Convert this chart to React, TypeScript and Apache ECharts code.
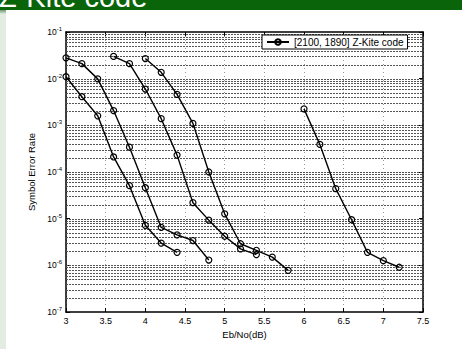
import React, { useEffect, useRef } from "react";
import * as echarts from "echarts";

const FONT = "'Liberation Sans', Arial, Helvetica, sans-serif";

const LEGEND_NAME = "[2100, 1890] Z-Kite code";
const HEADER_TEXT = "Z-Kite code";
const X_MIN = 3;
const X_MAX = 7.5;
const X_INTERVAL = 0.5;
const Y_MIN = 1e-7;
const Y_MAX = 1e-1;

const curveA: [number, number][] = [
  [3.0, 1.1e-2], [3.2, 4.1e-3], [3.4, 1.6e-3], [3.6, 2.1e-4], [3.8, 5.1e-5],
  [4.0, 7.2e-6], [4.2, 3.0e-6], [4.4, 1.9e-6],
];
const curveB: [number, number][] = [
  [3.0, 2.8e-2], [3.2, 2.1e-2], [3.4, 9.9e-3], [3.6, 2.07e-3], [3.8, 3.4e-4],
  [4.0, 4.6e-5], [4.2, 6.5e-6], [4.4, 4.5e-6], [4.6, 3.4e-6], [4.8, 1.3e-6],
];
const curveC: [number, number][] = [
  [3.6, 3.0e-2], [3.8, 2.1e-2], [4.0, 6.0e-3], [4.2, 1.39e-3], [4.4, 2.3e-4],
  [4.6, 2.2e-5], [4.8, 9.3e-6], [5.0, 4.2e-6], [5.2, 2.25e-6], [5.4, 1.7e-6],
];
const curveD: [number, number][] = [
  [4.0, 2.7e-2], [4.2, 1.37e-2], [4.4, 4.6e-3], [4.6, 1.1e-3], [4.8, 1.0e-4],
  [5.0, 1.27e-5], [5.2, 2.9e-6], [5.4, 2.1e-6], [5.6, 1.5e-6], [5.8, 7.8e-7],
];
const curveE: [number, number][] = [
  [6.0, 2.25e-3], [6.2, 3.9e-4], [6.4, 4.4e-5], [6.6, 9.5e-6], [6.8, 1.9e-6],
  [7.0, 1.26e-6], [7.2, 9.1e-7],
];

const curves = [curveA, curveB, curveC, curveD, curveE];

// log grid line positions (1..9 x 10^k)
const gridValues: number[] = [];
for (let k = -7; k <= -2; k++) {
  for (let m = 1; m <= 9; m++) {
    const v = m * Math.pow(10, k);
    if (v > Y_MIN * 1.0001) gridValues.push(v);
  }
}

export default function App() {
  const ref = useRef<HTMLDivElement>(null);
  useEffect(() => {
    if (!ref.current) return;
    const chart = echarts.init(ref.current, null, { renderer: "svg" });
    const lineSeries = curves.map((d, i) => ({
      type: "line",
      name: i === 0 ? LEGEND_NAME : "curve" + i,
      data: d,
      clip: false,
      symbol: "circle",
      symbolSize: 6,
      showSymbol: true,
      z: 5,
      lineStyle: { color: "#000", width: 1.4 },
      itemStyle: { color: "rgba(255,255,255,0)", borderColor: "#000", borderWidth: 1.2 },
    }));
    const option: any = {
      animation: false,
      backgroundColor: "transparent",
      textStyle: { fontFamily: FONT },
      graphic: [
        {
          type: "rect",
          shape: { x: 0, y: 10, width: 6, height: 339 },
          style: { fill: "#e2ece2" },
          z: 0,
        },
        {
          type: "rect",
          shape: { x: 0, y: 10, width: 6, height: 4 },
          style: {
            fill: new echarts.graphic.LinearGradient(0, 0, 0, 1, [
              { offset: 0, color: "#6f9a6f" },
              { offset: 1, color: "#e2ece2" },
            ]),
          },
          z: 0,
        },
      ],
      legend: {
        data: [LEGEND_NAME],
        left: 262,
        top: 35,
        backgroundColor: "#fff",
        borderColor: "#000",
        borderWidth: 1,
        borderRadius: 0,
        padding: [2, 4, 2, 4],
        itemWidth: 22,
        itemHeight: 7,
        itemGap: 4,
        textStyle: { fontSize: 10, color: "#000", fontFamily: FONT },
        z: 10,
      },
      grid: { left: 66, right: 39, top: 32, bottom: 37, show: false },
      xAxis: [
        {
          type: "value",
          min: X_MIN,
          max: X_MAX,
          interval: X_INTERVAL,
          name: "Eb/No(dB)",
          nameLocation: "middle",
          nameGap: 15,
          nameTextStyle: { fontSize: 9.5, color: "#000", fontFamily: FONT },
          axisLine: { show: true, lineStyle: { color: "#000", width: 1.5 } },
          axisTick: { show: true, inside: true, length: 4, lineStyle: { color: "#000" } },
          axisLabel: { fontSize: 9, color: "#000", margin: 4, fontFamily: FONT },
          splitLine: { show: true, lineStyle: { color: "#999", type: [1, 3], width: 1 } },
        },
        {
          type: "value",
          position: "top",
          min: X_MIN,
          max: X_MAX,
          interval: X_INTERVAL,
          axisLine: { show: true, lineStyle: { color: "#000", width: 1.5 } },
          axisTick: { show: true, inside: true, length: 4, lineStyle: { color: "#000" } },
          axisLabel: { show: false },
          splitLine: { show: false },
        },
      ],
      yAxis: [
        {
          type: "log",
          logBase: 10,
          min: Y_MIN,
          max: Y_MAX,
          name: "Symbol Error Rate",
          nameLocation: "middle",
          nameRotate: 90,
          nameGap: 24,
          nameTextStyle: { fontSize: 9.5, color: "#000", fontFamily: FONT },
          axisLine: { show: true, lineStyle: { color: "#000", width: 1.5 } },
          axisTick: { show: true, inside: true, length: 4, lineStyle: { color: "#000" } },
          axisLabel: {
            margin: 4,
            formatter: (v: number) => "{b|10}{s|" + Math.round(Math.log10(v)) + "}",
            rich: {
              b: { fontSize: 8.5, color: "#000", fontFamily: FONT },
              s: { fontSize: 6, color: "#000", fontFamily: FONT, verticalAlign: "top", padding: [0, 0, 6, 0] },
            },
          },
          splitLine: { show: false },
        },
        {
          type: "log",
          logBase: 10,
          min: Y_MIN,
          max: Y_MAX,
          position: "right",
          axisLine: { show: true, lineStyle: { color: "#000", width: 1.5 } },
          axisTick: { show: true, inside: true, length: 4, lineStyle: { color: "#000" } },
          axisLabel: { show: false },
          splitLine: { show: false },
        },
      ],
      series: [
        {
          type: "custom",
          name: "grid",
          silent: true,
          z: 1,
          clip: false,
          data: gridValues.map((v) => [X_MIN, v, X_MAX]),
          encode: { x: [0, 2], y: 1 },
          renderItem: (params: any, api: any) => {
            const p1 = api.coord([api.value(0), api.value(1)]);
            const p2 = api.coord([api.value(2), api.value(1)]);
            return {
              type: "line",
              shape: { x1: p1[0], y1: Math.round(p1[1]) + 0.5, x2: p2[0], y2: Math.round(p2[1]) + 0.5 },
              style: { stroke: "#555", lineWidth: 1, lineDash: [2, 1] },
            };
          },
        },
        ...lineSeries,
      ],
    };
    chart.setOption(option);
    return () => chart.dispose();
  }, []);
  return (
    <div
      style={{
        position: "fixed",
        left: 0,
        top: 0,
        width: 462,
        height: 349,
        overflow: "hidden",
        background: "#fff",
      }}
    >
      <div ref={ref} style={{ width: 462, height: 349 }} />
      <div
        style={{
          position: "absolute",
          left: 0,
          top: 0,
          width: 462,
          height: 10,
          overflow: "hidden",
          background: "#0a640a",
        }}
      >
        <span
          style={{
            position: "absolute",
            left: -1,
            top: -17.5,
            fontFamily: FONT,
            fontSize: 29,
            lineHeight: "29px",
            color: "#fff",
            whiteSpace: "nowrap",
          }}
        >
          {HEADER_TEXT}
        </span>
      </div>
    </div>
  );
}
